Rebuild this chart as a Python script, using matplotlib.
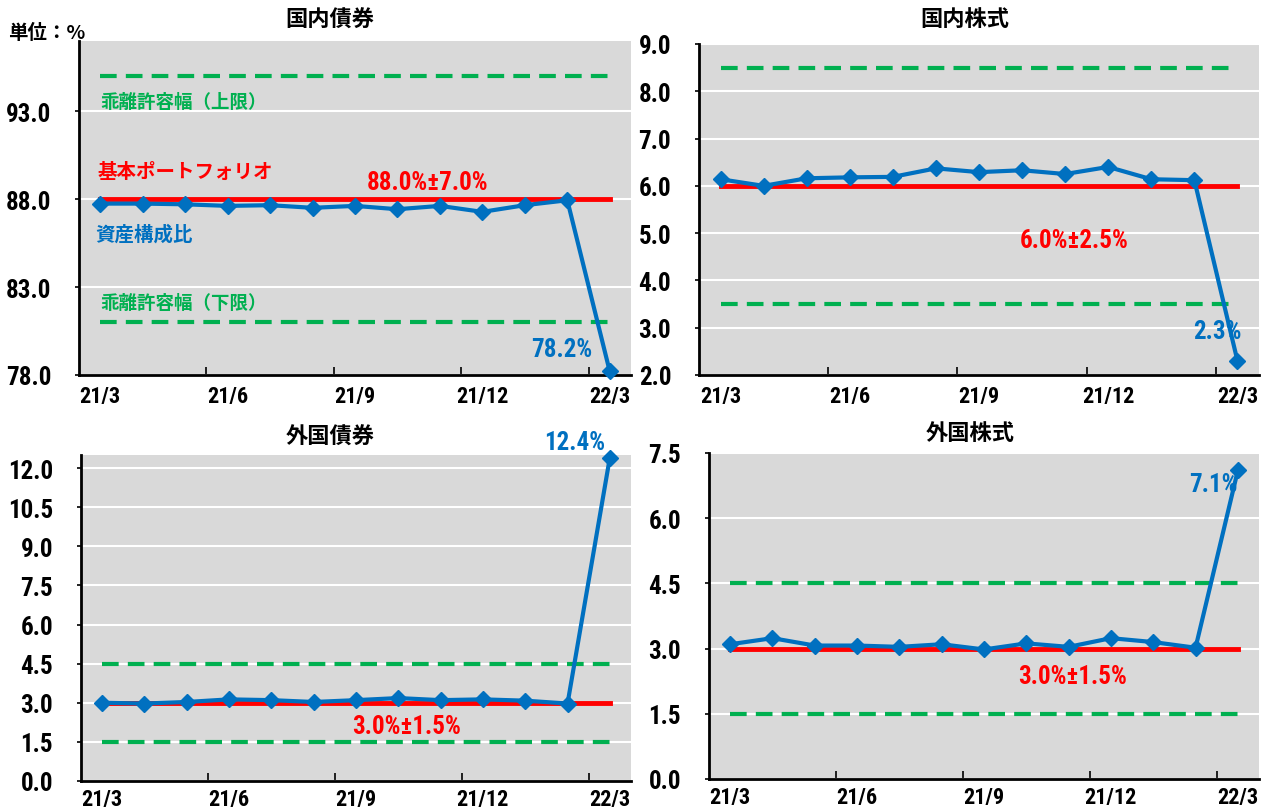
import matplotlib
matplotlib.use("Agg")
import matplotlib.pyplot as plt
import numpy as np

months = ["21/3", "21/4", "21/5", "21/6", "21/7", "21/8", "21/9", "21/10", "21/11", "21/12", "22/1", "22/2", "22/3"]
tick_labels = ["21/3", "21/6", "21/9", "21/12", "22/3"]

dom_bond = [87.75, 87.75, 87.71, 87.62, 87.66, 87.51, 87.62, 87.43, 87.62, 87.28, 87.66, 87.94, 78.2]
dom_stock = [6.14, 6.00, 6.16, 6.18, 6.19, 6.37, 6.29, 6.33, 6.25, 6.40, 6.14, 6.12, 2.3]
for_bond = [3.00, 2.97, 3.03, 3.13, 3.10, 3.03, 3.10, 3.18, 3.10, 3.13, 3.08, 2.97, 12.4]
for_stock = [3.10, 3.24, 3.07, 3.07, 3.04, 3.10, 2.98, 3.12, 3.04, 3.24, 3.15, 3.02, 7.1]

targets = [88.0, 6.0, 3.0, 3.0]
bands = [7.0, 2.5, 1.5, 1.5]
titles = ["国内債券", "国内株式", "外国債券", "外国株式"]
series = [dom_bond, dom_stock, for_bond, for_stock]

BLUE = "#0070c0"
RED = "#ff0000"
GREEN = "#00b050"
BG = "#d9d9d9"
CJK = ["Noto Sans CJK JP", "DejaVu Sans"]
NUM = ["Roboto Condensed", "Liberation Sans Narrow", "DejaVu Sans"]

W, H = 1262, 812
fig = plt.figure(figsize=(W / 100, H / 100), dpi=100)


def ax_px(l, r, t, b):
    return fig.add_axes([l / W, (H - b) / H, (r - l) / W, (b - t) / H])


# pixel boxes: left, right, top, bottom
boxes = [(79, 631, 42, 376), (699, 1259, 45, 376), (81, 631, 456, 782), (709, 1259, 454, 780)]
ylims = [(78, 97), (2, 9), (0, 12.5), (0, 7.5)]
yticks = [np.arange(78, 94, 5), np.arange(2, 9.01, 1), np.arange(0, 12.01, 1.5), np.arange(0, 7.51, 1.5)]
title_pos = [(330, 20), (965, 20), (330, 437), (970, 433)]
xpads = [7, 7, 5, 5]

x = np.arange(len(months))
axes = []
for k in range(4):
    ax = ax_px(*boxes[k])
    axes.append(ax)
    ax.set_facecolor(BG)
    ax.set_xlim(-0.5, 12.5)
    ax.set_ylim(*ylims[k])
    ax.set_yticks(yticks[k])
    ax.set_yticklabels([f"{v:.1f}" for v in yticks[k]], family=NUM, fontweight="bold", fontsize=18)
    ax.yaxis.grid(True, color="white", lw=1.5)
    ax.set_axisbelow(True)
    ax.set_xticks([0, 3, 6, 9, 12])
    ax.set_xticklabels(tick_labels, family=NUM, fontweight="bold", fontsize=16)
    ax.set_xticks([2.5, 5.5, 8.5, 11.5], minor=True)
    ax.tick_params(axis="x", which="major", length=0, pad=xpads[k])
    ax.tick_params(axis="x", which="minor", direction="in", length=6, width=1.2)
    ax.tick_params(axis="y", direction="out", length=3, width=1.2, pad=17)
    for s in ["top", "right"]:
        ax.spines[s].set_visible(False)
    for s in ["left", "bottom"]:
        ax.spines[s].set_linewidth(2)
    t, b = targets[k], bands[k]
    ax.plot([x[0], x[-1]], [t + b, t + b], color=GREEN, lw=3, dashes=(4, 2.2), zorder=2)
    ax.plot([x[0], x[-1]], [t - b, t - b], color=GREEN, lw=3, dashes=(4, 2.2), zorder=2)
    ax.plot([x[0], x[-1]], [t, t], color=RED, lw=3.5, zorder=3)
    ax.plot(x, series[k], color=BLUE, lw=3, marker="D", ms=8.5, zorder=4, clip_on=False)
    tx, ty = title_pos[k]
    fig.text(tx / W, 1 - ty / H, titles[k], family=CJK, fontweight="bold", fontsize=16,
             ha="center", va="center")

fig.text(8 / W, 1 - 33 / H, "単位：%", family=CJK, fontweight="bold", fontsize=14, ha="left", va="center")

a = axes[0]
a.text(7.7, 89.0, "88.0%±7.0%", color=RED, family=NUM, fontweight="bold", fontsize=18, ha="center", va="center")
a.text(-0.07, 89.6, "基本ポートフォリオ", color=RED, family=CJK, fontweight="bold", fontsize=14, ha="left", va="center")
a.text(-0.12, 86.05, "資産構成比", color=BLUE, family=CJK, fontweight="bold", fontsize=14, ha="left", va="center")
a.text(0.0, 93.57, "乖離許容幅（上限）", color=GREEN, family=CJK, fontweight="bold", fontsize=13.3, ha="left", va="center")
a.text(0.0, 82.1, "乖離許容幅（下限）", color=GREEN, family=CJK, fontweight="bold", fontsize=13.3, ha="left", va="center")
a.text(11.6, 79.5, "78.2%", color=BLUE, family=NUM, fontweight="bold", fontsize=18, ha="right", va="center")

a = axes[1]
a.text(8.2, 4.86, "6.0%±2.5%", color=RED, family=NUM, fontweight="bold", fontsize=18, ha="center", va="center")
a.text(12.1, 2.93, "2.3%", color=BLUE, family=NUM, fontweight="bold", fontsize=18, ha="right", va="center")

a = axes[2]
a.text(7.2, 2.1, "3.0%±1.5%", color=RED, family=NUM, fontweight="bold", fontsize=18, ha="center", va="center")
a.text(11.9, 13.0, "12.4%", color=BLUE, family=NUM, fontweight="bold", fontsize=18, ha="right", va="center")

a = axes[3]
a.text(8.1, 2.37, "3.0%±1.5%", color=RED, family=NUM, fontweight="bold", fontsize=18, ha="center", va="center")
a.text(12.0, 6.78, "7.1%", color=BLUE, family=NUM, fontweight="bold", fontsize=18, ha="right", va="center")

fig.savefig("out.png", dpi=100)
